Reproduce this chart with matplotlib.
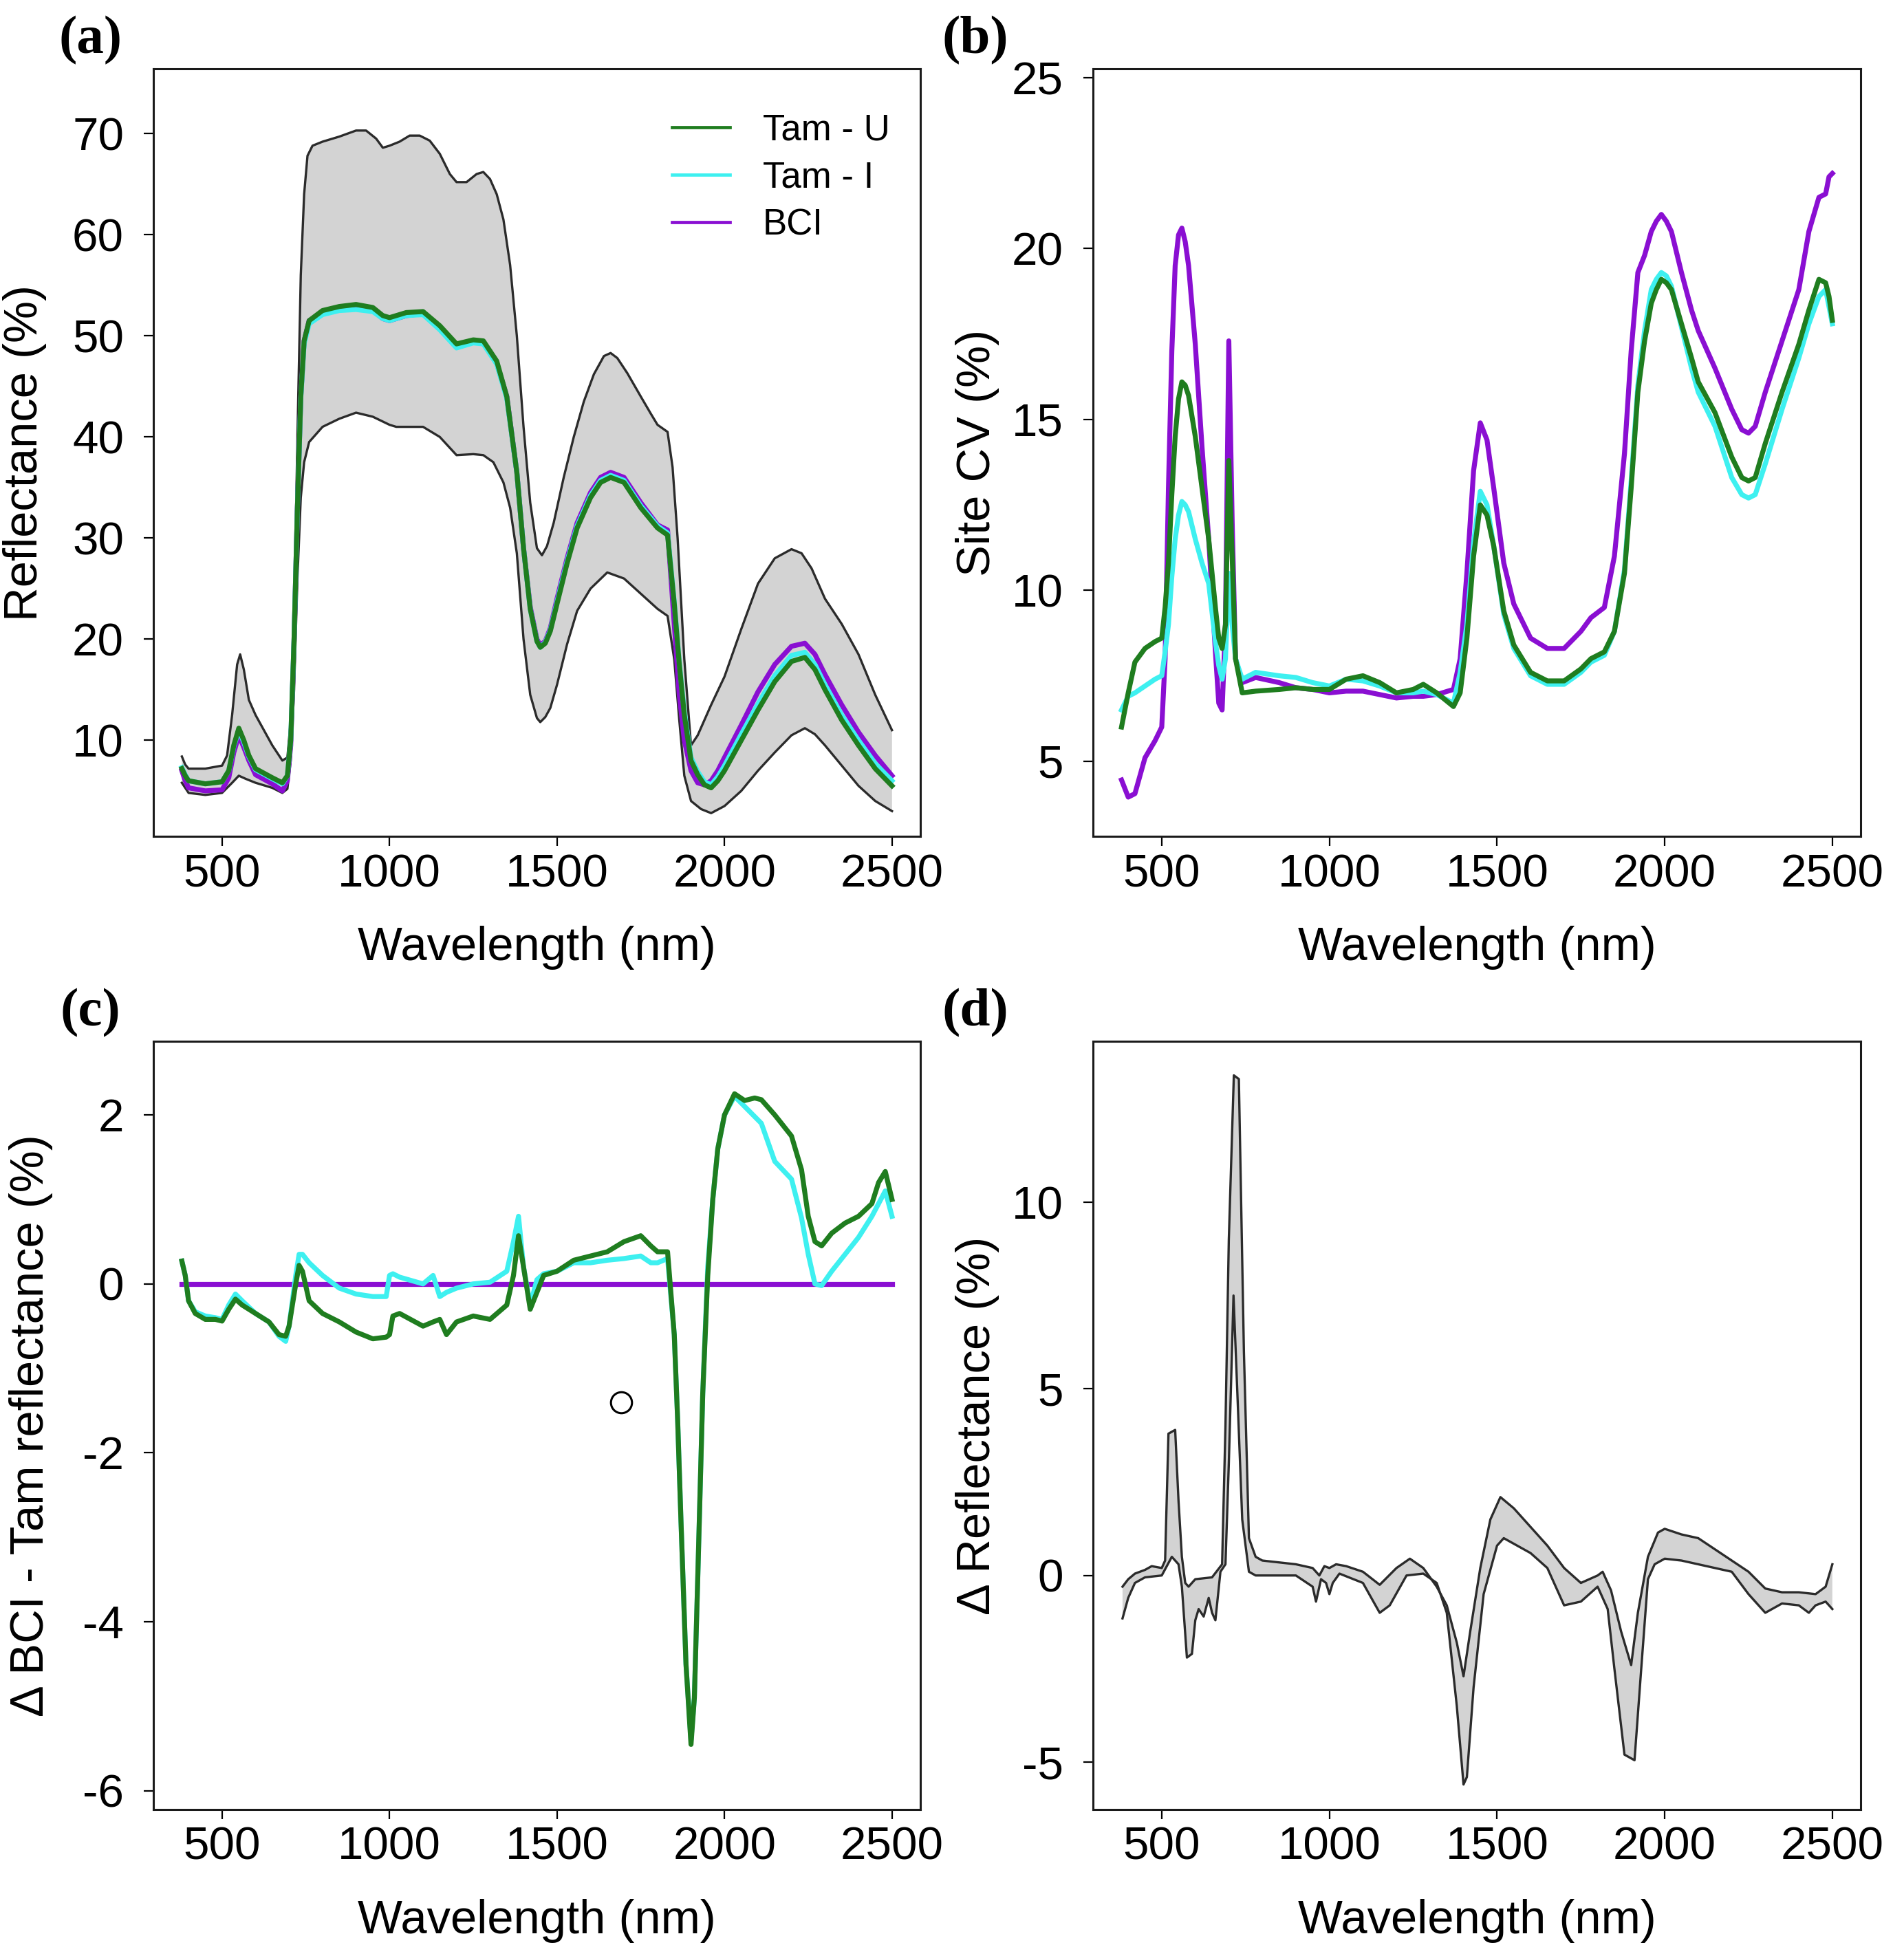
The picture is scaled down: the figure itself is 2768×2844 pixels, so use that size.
import matplotlib
matplotlib.use("Agg")
import matplotlib.pyplot as plt

plt.rcParams['font.family'] = ['Liberation Sans', 'DejaVu Sans']

# ---- (a) mean reflectance per site + range envelope ----
wl_a = [380, 390, 400, 450, 500, 520, 535, 550, 565, 580, 600, 650, 680, 695, 705, 715, 725, 735,
        745, 760, 800, 850, 900, 950, 980, 1000, 1050, 1100, 1150, 1200, 1250, 1280, 1320, 1350,
        1380, 1400, 1420, 1440, 1450, 1465, 1480, 1500, 1530, 1560, 1600, 1630, 1660, 1700,
        1750, 1800, 1830, 1850, 1865, 1880, 1900, 1920, 1940, 1960, 1980, 2000, 2050, 2100,
        2150, 2200, 2240, 2270, 2300, 2350, 2400, 2450, 2500]
tamu_a = [7.2, 6.5, 6.0, 5.7, 5.9, 7.0, 9.5, 11.2, 10.0, 8.5, 7.2, 6.3, 5.8, 6.5, 10, 20, 33, 44,
          49.5, 51.5, 52.5, 52.9, 53.1, 52.8, 52.0, 51.8, 52.3, 52.4, 51.0, 49.2, 49.6, 49.5, 47.5, 44,
          36.5, 29, 23, 19.8, 19.2, 19.6, 20.8, 23.5, 27.5, 31, 34, 35.5, 36, 35.5,
          33, 31, 30.3, 23.5, 17.5, 12.5, 8, 6.6, 5.6, 5.3, 6.0, 7, 10, 13,
          15.8, 17.8, 18.2, 17, 15, 12, 9.5, 7.2, 5.5]
tami_a = [7.3, 6.6, 6.0, 5.7, 5.9, 7.0, 9.4, 11.0, 9.8, 8.4, 7.1, 6.2, 5.7, 6.5, 10, 20, 33, 43.8,
          49.2, 51.2, 52.1, 52.5, 52.6, 52.4, 51.7, 51.5, 52.0, 52.1, 50.6, 48.8, 49.3, 49.2, 47.2, 43.8,
          36.5, 29, 23, 19.8, 19.2, 19.7, 20.9, 23.7, 27.7, 31.2, 34.2, 35.7, 36.2, 35.7,
          33.2, 31.2, 30.5, 23.7, 17.7, 12.8, 8.3, 6.9, 5.9, 5.6, 6.4, 7.5, 10.6, 13.6,
          16.4, 18.4, 18.7, 17.5, 15.5, 12.5, 10.0, 7.7, 6.0]
bci_a = [7.0, 6.0, 5.3, 5.0, 5.1, 6.3, 8.8, 10.5, 9.3, 8.0, 6.6, 5.7, 5.0, 6.0, 9.5, 20, 33, 44,
         49.5, 51.5, 52.3, 52.6, 52.8, 52.5, 51.7, 51.5, 52.0, 52.2, 50.8, 49.0, 49.4, 49.3, 47.3, 44,
         36.5, 29, 23.2, 20.0, 19.4, 19.8, 21.1, 24.0, 28.0, 31.5, 34.5, 36.0, 36.5, 36,
         33.5, 31.3, 30.8, 21.5, 14.5, 10, 7, 5.8, 5.6, 6.0, 7.0, 8.3, 11.5, 14.8,
         17.5, 19.3, 19.6, 18.5, 16.5, 13.5, 10.8, 8.5, 6.5]

wl_a_up = [380, 390, 400, 450, 500, 515, 530, 545, 554, 565, 580, 600, 625, 650, 680, 695, 705, 715,
           725, 735, 745, 755, 770, 800, 850, 900, 930, 960, 980, 1000, 1030, 1060, 1090, 1120,
           1150, 1180, 1200, 1230, 1260, 1280, 1300, 1320, 1340, 1360, 1380, 1400, 1420, 1440,
           1455, 1470, 1490, 1520, 1550, 1580, 1610, 1640, 1660, 1680, 1710, 1750, 1780, 1800,
           1830, 1845, 1860, 1880, 1900, 1920, 1940, 1960, 2000, 2050, 2100, 2150, 2200, 2230,
           2260, 2300, 2350, 2400, 2450, 2500]
up_a = [8.4, 7.6, 7.2, 7.2, 7.5, 8.5, 12.5, 17.5, 18.5, 17, 14.0, 12.5, 11, 9.5, 8.0, 8.3, 12, 22,
        40, 56, 64, 67.8, 68.8, 69.2, 69.7, 70.3, 70.3, 69.5, 68.6, 68.8, 69.2, 69.8, 69.8, 69.3,
        68.0, 66, 65.2, 65.2, 66.0, 66.2, 65.5, 64, 61.5, 57, 50, 41, 33.5, 29,
        28.3, 29.2, 31.5, 36, 40, 43.5, 46.2, 48, 48.3, 47.8, 46.3, 44, 42.3, 41.2,
        40.5, 37, 30, 18, 9.5, 10.5, 12, 13.5, 16.3, 21, 25.5, 28, 28.9, 28.5,
        27, 24, 21.5, 18.5, 14.5, 11]
wl_a_lo = [380, 400, 450, 500, 530, 550, 570, 600, 650, 680, 695, 705, 715, 725, 735, 745, 760, 800,
           850, 900, 950, 1000, 1020, 1100, 1150, 1200, 1250, 1280, 1310, 1340, 1360, 1380, 1400,
           1420, 1440, 1450, 1465, 1480, 1500, 1530, 1560, 1600, 1650, 1700, 1750, 1800, 1830,
           1850, 1865, 1880, 1900, 1930, 1960, 2000, 2050, 2100, 2150, 2200, 2240, 2270, 2300,
           2350, 2400, 2450, 2500]
lo_a = [5.8, 4.8, 4.6, 4.8, 5.8, 6.5, 6.2, 5.8, 5.3, 4.8, 5.2, 8, 15, 26, 34, 37.5, 39.5, 41,
        41.8, 42.4, 42.0, 41.2, 41.0, 41.0, 40.0, 38.2, 38.3, 38.2, 37.5, 35.5, 33, 28.5, 20,
        14.5, 12.2, 11.8, 12.3, 13.2, 15.5, 19.5, 22.8, 25, 26.6, 26, 24.5, 23, 22.3,
        18, 12, 6.5, 4.0, 3.2, 2.8, 3.5, 5.0, 7.0, 8.8, 10.5, 11.2, 10.6, 9.5,
        7.5, 5.5, 4.0, 3.0]

# ---- (b) site coefficient of variation ----
wl_b = [380, 400, 420, 450, 480, 500, 510, 520, 530, 540, 550, 560, 570, 580, 600, 620, 640, 660,
        670, 680, 690, 700, 710, 720, 740, 780, 850, 900, 950, 1000, 1050, 1100, 1150, 1200, 1250,
        1280, 1320, 1370, 1390, 1410, 1430, 1450, 1470, 1490, 1520, 1550, 1600, 1650, 1700, 1750,
        1780, 1820, 1850, 1880, 1900, 1920, 1940, 1960, 1975, 1990, 2005, 2020, 2050, 2080, 2100,
        2150, 2200, 2230, 2250, 2270, 2300, 2350, 2400, 2430, 2460, 2480, 2490, 2500]
bci_b = [4.45, 3.95, 4.05, 5.1, 5.6, 6.0, 8.0, 13.0, 17.0, 19.5, 20.4, 20.6, 20.2, 19.5, 17.2, 14.2, 11.5, 8.2,
         6.7, 6.5, 9.0, 17.3, 12.0, 8.0, 7.3, 7.45, 7.3, 7.15, 7.1, 7.0, 7.05, 7.05, 6.95, 6.85, 6.9,
         6.9, 6.95, 7.1, 8.0, 10.5, 13.5, 14.9, 14.4, 13.0, 10.8, 9.6, 8.6, 8.3, 8.3, 8.8,
         9.2, 9.5, 11.0, 14.0, 17.0, 19.3, 19.8, 20.5, 20.8, 21.0, 20.8, 20.5, 19.3, 18.2, 17.6,
         16.5, 15.3, 14.7, 14.6, 14.8, 15.8, 17.3, 18.8, 20.5, 21.5, 21.6, 22.1, 22.2]
tamu_b = [6.0, 7.0, 7.9, 8.3, 8.5, 8.6, 9.5, 10.8, 12.8, 14.5, 15.6, 16.1, 16.0, 15.7, 14.5, 13.0, 11.5, 9.5,
          8.6, 8.3, 9.0, 13.8, 11.0, 8.0, 7.0, 7.05, 7.1, 7.15, 7.1, 7.1, 7.4, 7.5, 7.3, 7.0, 7.1,
          7.25, 7.0, 6.6, 7.0, 8.6, 11.0, 12.5, 12.2, 11.3, 9.4, 8.4, 7.6, 7.35, 7.35, 7.7,
          8.0, 8.2, 8.8, 10.5, 13.0, 15.8, 17.3, 18.4, 18.8, 19.1, 19.0, 18.8, 17.8, 16.8, 16.1,
          15.2, 13.9, 13.3, 13.2, 13.3, 14.3, 15.8, 17.2, 18.2, 19.1, 19.0, 18.6, 17.9]
tami_b = [6.5, 6.9, 7.0, 7.2, 7.4, 7.5, 8.2, 9.0, 10.4, 11.5, 12.2, 12.6, 12.5, 12.3, 11.5, 10.8, 10.2, 8.5,
          7.8, 7.4, 8.0, 10.5, 9.0, 8.0, 7.4, 7.6, 7.5, 7.45, 7.3, 7.2, 7.4, 7.35, 7.2, 7.0, 7.0,
          7.05, 6.95, 6.7, 7.6, 9.0, 11.4, 12.9, 12.5, 11.3, 9.3, 8.3, 7.5, 7.25, 7.25, 7.6,
          7.9, 8.1, 8.8, 10.6, 13.2, 16.0, 17.6, 18.8, 19.1, 19.3, 19.2, 18.9, 17.7, 16.5, 15.8,
          14.8, 13.3, 12.8, 12.7, 12.8, 13.7, 15.3, 16.8, 17.8, 18.6, 18.8, 18.3, 17.8]

# ---- (c) BCI minus Tam reflectance ----
wl_c = [380, 390, 400, 420, 450, 480, 500, 520, 540, 560, 600, 640, 670, 690, 700, 720, 730, 740,
        760, 800, 850, 900, 950, 990, 1000, 1010, 1030, 1100, 1130, 1150, 1170, 1200, 1250, 1300,
        1350, 1370, 1385, 1400, 1420, 1440, 1460, 1500, 1550, 1600, 1650, 1700, 1750, 1780,
        1800, 1830, 1850, 1860, 1870, 1885, 1900, 1910, 1920, 1935, 1950, 1965, 1980, 2000,
        2030, 2060, 2090, 2110, 2150, 2200, 2230, 2250, 2270, 2290, 2320, 2360, 2400, 2440,
        2460, 2480, 2500]
tamu_c = [0.27, 0.1, -0.2, -0.35, -0.42, -0.42, -0.44, -0.3, -0.18, -0.25, -0.35, -0.45, -0.6, -0.62,
          -0.5, 0.0, 0.22, 0.15, -0.2, -0.35, -0.45, -0.57, -0.65, -0.63, -0.6, -0.38, -0.35, -0.5,
          -0.45, -0.42, -0.6, -0.45, -0.38, -0.42, -0.25, 0.1, 0.57, 0.2, -0.3, -0.1, 0.1, 0.15,
          0.28, 0.33, 0.38, 0.5, 0.57, 0.45, 0.38, 0.38, -0.6, -1.6, -2.8, -4.5, -5.45, -4.9,
          -3.5, -1.3, 0.1, 1.0, 1.6, 2.0, 2.25, 2.17, 2.2, 2.18, 2.0, 1.75, 1.35, 0.8, 0.5, 0.45,
          0.6, 0.72, 0.8, 0.95, 1.2, 1.33, 1.0]
tami_c = [0.27, 0.1, -0.2, -0.33, -0.38, -0.4, -0.42, -0.25, -0.12, -0.2, -0.35, -0.45, -0.62, -0.68,
          -0.5, 0.1, 0.35, 0.35, 0.25, 0.1, -0.05, -0.12, -0.15, -0.15, 0.1, 0.12, 0.08, 0.0,
          0.1, -0.15, -0.1, -0.05, 0.0, 0.02, 0.15, 0.5, 0.8, 0.2, -0.25, 0.05, 0.12, 0.15,
          0.25, 0.25, 0.28, 0.3, 0.33, 0.25, 0.25, 0.3, -0.6, -1.6, -2.8, -4.5, -5.4, -4.9,
          -3.5, -1.3, 0.2, 1.0, 1.6, 2.0, 2.22, 2.1, 1.98, 1.9, 1.45, 1.24, 0.78, 0.35, 0.0, -0.02,
          0.15, 0.35, 0.55, 0.8, 0.95, 1.1, 0.8]
wl_c_bci = [380, 2500]
bci_c = [0.0, 0.0]
circle_wl = [1691]
circle_val = [-1.4]

# ---- (d) delta reflectance band ----
wl_d_up = [383, 400, 420, 450, 470, 500, 510, 520, 540, 550, 560, 570, 580, 600, 650, 680, 690, 700,
           715, 730, 745, 760, 780, 800, 900, 950, 970, 985, 1000, 1020, 1050, 1100, 1150, 1200,
           1240, 1280, 1320, 1350, 1380, 1400, 1420, 1450, 1480, 1510, 1550, 1600, 1650, 1700,
           1750, 1800, 1815, 1840, 1870, 1900, 1920, 1950, 1980, 2000, 2050, 2100, 2150, 2200,
           2250, 2300, 2350, 2400, 2450, 2480, 2500]
up_d = [-0.3, -0.1, 0.05, 0.15, 0.25, 0.2, 0.4, 3.8, 3.9, 2.0, 0.5, -0.2, -0.3, -0.1, -0.05, 0.3, 4.0, 9.0,
        13.4, 13.3, 6.0, 1.0, 0.5, 0.4, 0.3, 0.2, 0.0, 0.25, 0.2, 0.3, 0.25, 0.1, -0.25, 0.2,
        0.45, 0.2, -0.3, -0.8, -1.8, -2.7, -1.5, 0.2, 1.5, 2.1, 1.8, 1.3, 0.8, 0.2,
        -0.2, 0.0, 0.1, -0.4, -1.5, -2.4, -1.0, 0.5, 1.15, 1.25, 1.1, 1.0, 0.7, 0.4,
        0.1, -0.35, -0.45, -0.45, -0.5, -0.3, 0.3]
wl_d_lo = [383, 400, 420, 450, 500, 530, 550, 560, 575, 590, 600, 610, 625, 640, 650, 660, 675, 690,
           700, 714, 725, 740, 760, 780, 800, 900, 950, 960, 975, 990, 1000, 1010, 1030, 1100,
           1150, 1180, 1230, 1280, 1320, 1350, 1380, 1400, 1410, 1430, 1460, 1500, 1520, 1600,
           1650, 1700, 1750, 1800, 1830, 1850, 1880, 1910, 1930, 1950, 1970, 2000, 2050, 2100,
           2150, 2200, 2250, 2300, 2350, 2400, 2430, 2450, 2480, 2500]
lo_d = [-1.15, -0.6, -0.2, -0.05, 0.0, 0.5, 0.3, -0.3, -2.2, -2.1, -1.2, -0.9, -1.1, -0.6, -1.0, -1.2, 0.1, 0.3,
        3.0, 7.5, 5.0, 1.5, 0.1, 0.0, 0.0, 0.0, -0.3, -0.7, -0.1, -0.2, -0.5, -0.2, 0.05, -0.2,
        -1.0, -0.8, 0.0, 0.05, -0.2, -1.0, -3.5, -5.6, -5.4, -3.0, -0.5, 0.8, 1.0, 0.6,
        0.2, -0.8, -0.7, -0.3, -0.9, -2.5, -4.8, -4.95, -2.5, -0.1, 0.3, 0.45, 0.4, 0.3,
        0.2, 0.1, -0.5, -1.0, -0.75, -0.8, -1.0, -0.8, -0.7, -0.9]

GREEN = '#1f7d1f'
CYAN = '#3ef0f0'
PURPLE = '#8a0fd2'
GREY = '#d3d3d3'
EDGE = '#2b2b2b'
LW = 5.2
EDGE_LW = 2.4

fig = plt.figure(figsize=(27.68, 28.44), dpi=100)
ax_a = fig.add_axes([0.0806, 0.5724, 0.4028, 0.3924])
ax_b = fig.add_axes([0.5741, 0.5724, 0.4032, 0.3924])
ax_c = fig.add_axes([0.0806, 0.0749, 0.4028, 0.3927])
ax_d = fig.add_axes([0.5741, 0.0749, 0.4032, 0.3927])

# (a)
ax_a.fill(wl_a_up + wl_a_lo[::-1], up_a + lo_a[::-1], color=GREY, lw=0)
ax_a.plot(wl_a_up, up_a, color=EDGE, lw=EDGE_LW)
ax_a.plot(wl_a_lo, lo_a, color=EDGE, lw=EDGE_LW)
ax_a.plot(wl_a, bci_a, color=PURPLE, lw=LW, label='BCI')
ax_a.plot(wl_a, tami_a, color=CYAN, lw=LW, label='Tam - I')
ax_a.plot(wl_a, tamu_a, color=GREEN, lw=LW, label='Tam - U')
h, l = ax_a.get_legend_handles_labels()
leg = ax_a.legend(h[::-1], l[::-1], loc='upper left', bbox_to_anchor=(0.676, 0.942),
                  frameon=False, fontsize=38, handlelength=1.6, handletextpad=0.9,
                  labelspacing=0.36, borderpad=0, borderaxespad=0)
for line in leg.get_lines():
    line.set_linewidth(3.4)
ax_a.set_ylim(0.5, 76.4)
ax_a.set_yticks([10, 20, 30, 40, 50, 60, 70])
ax_a.set_ylabel('Reflectance (%)')

# (b)
ax_b.plot(wl_b, bci_b, color=PURPLE, lw=LW)
ax_b.plot(wl_b, tami_b, color=CYAN, lw=LW)
ax_b.plot(wl_b, tamu_b, color=GREEN, lw=LW)
ax_b.set_ylim(2.8, 25.26)
ax_b.set_yticks([5, 10, 15, 20, 25])
ax_b.set_ylabel('Site CV (%)')

# (c)
ax_c.plot(wl_c_bci, bci_c, color=PURPLE, lw=LW)
ax_c.plot(wl_c, tami_c, color=CYAN, lw=LW)
ax_c.plot(wl_c, tamu_c, color=GREEN, lw=LW)
ax_c.plot(circle_wl, circle_val, 'o', mfc='none', mec='black', ms=22, mew=2.2)
ax_c.set_ylim(-6.22, 2.87)
ax_c.set_yticks([-6, -4, -2, 0, 2])
ax_c.set_ylabel('\u0394 BCI - Tam reflectance (%)')

# (d)
ax_d.fill(wl_d_up + wl_d_lo[::-1], up_d + lo_d[::-1], color=GREY, lw=0)
ax_d.plot(wl_d_up, up_d, color=EDGE, lw=EDGE_LW)
ax_d.plot(wl_d_lo, lo_d, color=EDGE, lw=EDGE_LW)
ax_d.set_ylim(-6.27, 14.31)
ax_d.set_yticks([-5, 0, 5, 10])
ax_d.set_ylabel('\u0394 Reflectance (%)')

label_dx = {'(a)': 0.033, '(b)': 0.0618, '(c)': 0.033, '(d)': 0.0618}
for ax, lab in zip([ax_a, ax_b, ax_c, ax_d], ['(a)', '(b)', '(c)', '(d)']):
    ax.set_xlim(295.2, 2584.8)
    ax.set_xticks([500, 1000, 1500, 2000, 2500])
    ax.set_yticklabels([str(t) for t in ax.get_yticks().astype(int)])
    ax.set_xlabel('Wavelength (nm)', fontsize=49.5, va='center')
    ax.xaxis.set_label_coords(0.5, -0.145)
    ax.yaxis.label.set_fontsize(49.5)
    ax.yaxis.label.set_va('center')
    ax.tick_params(axis='x', which='both', direction='out', length=10, width=1.6,
                   labelsize=48.5, pad=8)
    ax.tick_params(axis='y', which='both', direction='out', length=10, width=1.6,
                   labelsize=48.5, pad=21)
    for sp in ax.spines.values():
        sp.set_linewidth(2.2)
        sp.set_color('#1a1a1a')
    pos = ax.get_position()
    fig.text(pos.x0 - label_dx[lab], pos.y1 + 0.0145, lab, family='Liberation Serif',
             fontweight='bold', fontsize=57, ha='center', va='center')

ax_a.yaxis.set_label_coords(-0.168, 0.5)
ax_b.yaxis.set_label_coords(-0.151, 0.5)
ax_c.yaxis.set_label_coords(-0.160, 0.5)
ax_d.yaxis.set_label_coords(-0.151, 0.5)

fig.savefig('out.png', dpi=100, facecolor='white')
